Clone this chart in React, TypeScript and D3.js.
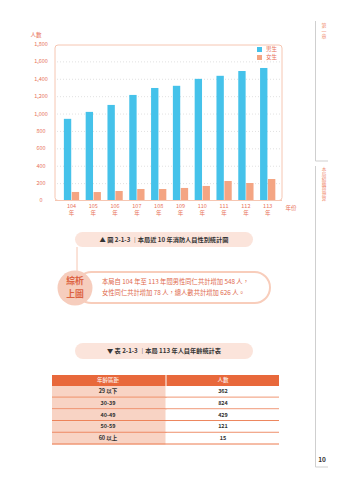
import React from "react";
import * as d3 from "d3";

const years = ["104", "105", "106", "107", "108", "109", "110", "111", "112", "113"];
const maleValues = [945, 1025, 1105, 1220, 1300, 1325, 1405, 1440, 1495, 1530];
const femaleValues = [104, 103, 115, 138, 138, 150, 173, 230, 207, 253];
const yTicks = [0, 200, 400, 600, 800, 1000, 1200, 1400, 1600, 1800];
const seriesNames = ["男生", "女生"];
const ageGroups = ["29 以下", "30-39", "40-49", "50-59", "60 以上"];
const ageCounts = [362, 824, 429, 121, 15];

const BLUE = "#45c2ea";
const SALMON = "#f4a583";
const TXT = "#e8735a";
const FONT = "'Noto Sans CJK TC', 'Noto Sans', sans-serif";

export default function App() {
  const y = d3.scaleLinear().domain([0, 1800]).range([201, 44.5]);
  const x0 = d3.scaleBand<string>().domain(years).range([60.6, 278.6]).paddingInner(0.3).paddingOuter(0.15);
  const x1 = d3.scaleBand<string>().domain(["m", "f"]).range([0, x0.bandwidth()]).paddingInner(0.07);
  const fmt = d3.format(",");

  const rowY = d3.scaleBand<string>().domain(ageGroups).range([386, 444.5]);

  return (
    <>
      <style>{`body{margin:0}`}</style>
      <svg width={340} height={480} style={{ display: "block", fontFamily: FONT }}>
        <rect width={340} height={480} fill="#fff" />
        {/* side margin */}
        <line x1={315.5} y1={21} x2={315.5} y2={161} stroke="#cfcfcf" strokeWidth={1} />
        <line x1={315.5} y1={161} x2={328} y2={161} stroke="#cfcfcf" strokeWidth={1} />
        <line x1={315.5} y1={166} x2={315.5} y2={467} stroke="#cfcfcf" strokeWidth={1} />
        <line x1={315.5} y1={467} x2={328} y2={467} stroke="#cfcfcf" strokeWidth={1} />
        {["第", "一", "章"].map((c, i) => (
          <text key={c + i} x={324} y={26 + i * 5.5} fontSize={5} fill="#f08a6e" textAnchor="middle" dominantBaseline="middle">{c}</text>
        ))}
        {"本局組織與預算".split("").map((c, i) => (
          <text key={c + i} x={324} y={170 + i * 4.8} fontSize={4.6} fill="#f08a6e" textAnchor="middle" dominantBaseline="middle">{c}</text>
        ))}
        <text x={322} y={462} fontSize={6.5} fontWeight="bold" fill="#333" textAnchor="middle">10</text>

        {/* chart frame */}
        <rect x={55} y={45} width={227} height={155.5} rx={3} fill="none" stroke="#f6c6b2" strokeWidth={1} />
        {yTicks.filter((t) => t > 0 && t < 1800).map((t) => (
          <line key={t} x1={57} x2={280} y1={y(t)} y2={y(t)} stroke="#c8c8c8" strokeWidth={0.7} strokeDasharray="0.8 2.2" />
        ))}
        {yTicks.map((t) => (
          <text key={t} x={41} y={y(t) + (t === 0 ? -1 : 0)} fontSize={5.5} fill={TXT} textAnchor="middle" dominantBaseline="middle">{fmt(t)}</text>
        ))}
        <text x={36} y={35} fontSize={5.5} fill={TXT} textAnchor="middle" dominantBaseline="middle">人數</text>

        {years.map((yr, i) => (
          <g key={yr} transform={`translate(${x0(yr)},0)`}>
            <rect x={x1("m")} y={y(maleValues[i])} width={x1.bandwidth()} height={y(0) - y(maleValues[i])} fill={BLUE} />
            <rect x={x1("f")} y={y(femaleValues[i])} width={x1.bandwidth()} height={y(0) - y(femaleValues[i])} fill={SALMON} />
            <text x={x0.bandwidth() / 2} y={206} fontSize={5.5} fill={TXT} textAnchor="middle" dominantBaseline="middle">{yr}</text>
            <text x={x0.bandwidth() / 2} y={213.5} fontSize={5.5} fill={TXT} textAnchor="middle" dominantBaseline="middle">年</text>
          </g>
        ))}
        <line x1={55} x2={282} y1={200.5} y2={200.5} stroke="#f6c6b2" strokeWidth={1.2} />
        <text x={291} y={208} fontSize={5.5} fill={TXT} textAnchor="middle" dominantBaseline="middle">年份</text>

        {/* legend */}
        <rect x={257} y={47} width={5} height={5} fill={BLUE} />
        <text x={266} y={49.8} fontSize={5.5} fill={TXT} dominantBaseline="middle">{seriesNames[0]}</text>
        <rect x={257} y={55} width={5} height={5} fill={SALMON} />
        <text x={266} y={57.8} fontSize={5.5} fill={TXT} dominantBaseline="middle">{seriesNames[1]}</text>

        {/* figure caption */}
        <rect x={75} y={232} width={178} height={15} rx={7.5} fill="#fbe4db" />
        <text x={164} y={240} fontSize={6.2} fontWeight="bold" fill="#333" textAnchor="middle" dominantBaseline="middle">▲  圖 2-1-3 ｜本局近 10 年消防人員性別統計圖</text>

        {/* summary */}
        <line x1={77} y1={247} x2={77} y2={272} stroke="#f6c6b2" strokeWidth={1} />
        <rect x={76} y={272} width={194} height={31} rx={15.5} fill="#fff" stroke="#f8cdbb" strokeWidth={2} />
        <circle cx={75} cy={288} r={17.5} fill="#f6cdbd" />
        <text x={75} y={281.5} fontSize={8.8} fontWeight="bold" fill="#dc6141" textAnchor="middle" dominantBaseline="middle">綜析</text>
        <text x={75} y={294.5} fontSize={8.8} fontWeight="bold" fill="#dc6141" textAnchor="middle" dominantBaseline="middle">上圖</text>
        <text x={102} y={282} fontSize={6.3} fill="#e0674a" dominantBaseline="middle">本局自 104 年至 113 年間男性同仁共計增加 548 人，</text>
        <text x={102} y={293} fontSize={6.3} fill="#e0674a" dominantBaseline="middle">女性同仁共計增加 78 人，總人數共計增加 626 人。</text>

        {/* table caption */}
        <rect x={75} y={343} width={178} height={16} rx={8} fill="#fbe4db" />
        <text x={164} y={351.5} fontSize={6.2} fontWeight="bold" fill="#333" textAnchor="middle" dominantBaseline="middle">▼  表 2-1-3 ｜本局 113 年人員年齡統計表</text>

        {/* table */}
        <rect x={52} y={375} width={113.5} height={11} fill="#e8683b" />
        <rect x={166.5} y={375} width={112.5} height={11} fill="#e8683b" />
        <text x={108} y={380.8} fontSize={5.5} fill="#fff" textAnchor="middle" dominantBaseline="middle">年齡區距</text>
        <text x={223} y={380.8} fontSize={5.5} fill="#fff" textAnchor="middle" dominantBaseline="middle">人數</text>
        {ageGroups.map((g, i) => {
          const top = rowY(g) as number;
          const h = rowY.bandwidth();
          return (
            <g key={g}>
              <rect x={52} y={top} width={113.5} height={h} fill="#f8d3c4" />
              <rect x={166.5} y={top} width={112.5} height={h} fill="#fff" />
              <line x1={52} x2={279} y1={top + h - 0.5} y2={top + h - 0.5} stroke="#ec7b4f" strokeWidth={1} />
              <text x={108} y={top + h / 2} fontSize={5.5} fontWeight="bold" fill="#333" textAnchor="middle" dominantBaseline="middle">{g}</text>
              <text x={223} y={top + h / 2} fontSize={5.5} fontWeight="bold" fill="#333" textAnchor="middle" dominantBaseline="middle">{ageCounts[i]}</text>
            </g>
          );
        })}
      </svg>
    </>
  );
}
